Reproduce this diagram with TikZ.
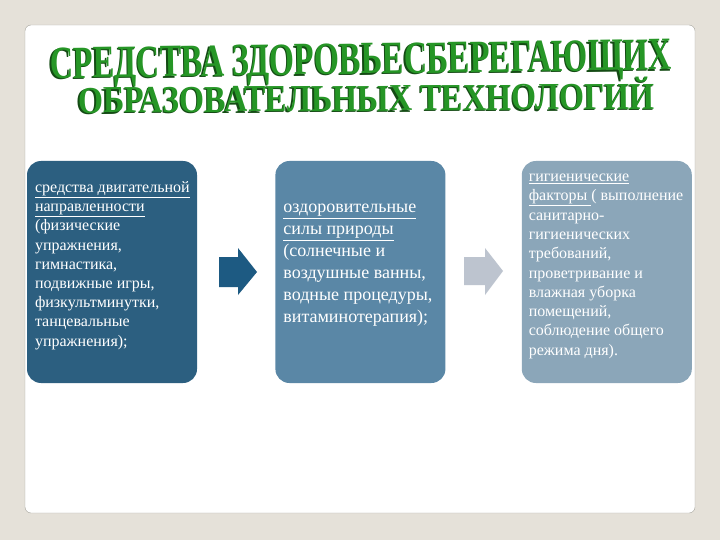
\documentclass[tikz,border=0pt]{standalone}
\usepackage{fontspec}
\setmainfont{Liberation Serif}
\usepackage{xcolor}
\usepackage{tikz}
\usetikzlibrary{arrows.meta}
\usetikzlibrary{shapes}
\usetikzlibrary{positioning}

\definecolor{slidebg}{RGB}{229,225,217}
\definecolor{panelline}{RGB}{165,163,155}
\definecolor{cardone}{RGB}{44,95,128}
\definecolor{cardtwo}{RGB}{90,135,166}
\definecolor{cardthree}{RGB}{139,166,185}
\definecolor{arrowone}{RGB}{29,90,130}
\definecolor{arrowtwo}{RGB}{189,196,207}
\definecolor{titlegreen}{RGB}{38,150,38}
\definecolor{titleshadow}{RGB}{20,75,20}

\begin{document}
\begin{tikzpicture}[x=1pt, y=-1pt,
    card/.style={rounded corners=14pt, minimum width=170pt, minimum height=222pt, inner sep=0pt},
    cardtext/.style={text=white, align=left, anchor=north west, inner sep=0pt},
    titletext/.style={font=\bfseries, inner sep=0pt, anchor=base}]
  \useasboundingbox (0,0) rectangle (720,540);
  \fill[slidebg] (0,0) rectangle (720,540);
  \draw (360,269) node[fill=white, draw=panelline, rounded corners=6pt, minimum width=670pt, minimum height=488pt] (panel) {};

  % title
  \draw (359.8,75.2) node[titletext, text=titleshadow, rotate=0.8] (titleoneshadow) {\fontsize{46}{46}\selectfont\resizebox{622pt}{\height}{СРЕДСТВА ЗДОРОВЬЕСБЕРЕГАЮЩИХ}};
  \draw (361,74) node[titletext, text=titlegreen, rotate=0.8] (titleone) {\fontsize{46}{46}\selectfont\resizebox{622pt}{\height}{СРЕДСТВА ЗДОРОВЬЕСБЕРЕГАЮЩИХ}};
  \draw (365.3,112.2) node[titletext, text=titleshadow, rotate=0.4] (titletwoshadow) {\fontsize{38}{38}\selectfont\resizebox{577pt}{\height}{ОБРАЗОВАТЕЛЬНЫХ ТЕХНОЛОГИЙ}};
  \draw (366.5,111) node[titletext, text=titlegreen, rotate=0.4] (titletwo) {\fontsize{38}{38}\selectfont\resizebox{577pt}{\height}{ОБРАЗОВАТЕЛЬНЫХ ТЕХНОЛОГИЙ}};

  % cards
  \draw (112,272) node[card, fill=cardone] (motion) {};
  \node[card, fill=cardtwo, right=78pt of motion] (nature) {};
  \node[card, fill=cardthree, right=76pt of nature] (hygiene) {};

  \node[cardtext, font=\fontsize{16}{19.2}\selectfont, below right=20.5pt and 8pt of motion.north west] (motiontext) {\underline{средства двигательной}\\
    \underline{направленности}\\
    (физические\\
    упражнения,\\
    гимнастика,\\
    подвижные игры,\\
    физкультминутки,\\
    танцевальные\\
    упражнения);};
  \node[cardtext, font=\fontsize{18}{22}\selectfont, below right=43pt and 8pt of nature.north west] (naturetext) {\underline{оздоровительные}\\
    \underline{силы природы}\\
    (солнечные и\\
    воздушные ванны,\\
    водные процедуры,\\
    витаминотерапия);};
  \node[cardtext, font=\fontsize{16}{19.3}\selectfont, below right=13pt and 7pt of hygiene.north west] (hygienetext) {\underline{гигиенические}\\
    \underline{факторы }( выполнение\\
    санитарно-\\
    гигиенических\\
    требований,\\
    проветривание и\\
    влажная уборка\\
    помещений,\\
    соблюдение общего\\
    режима дня).};

  % block arrows
  \fill[arrowone, shift={(219,272)}] (0,-15) -- (19,-15) -- (19,-24) -- (38,0) -- (19,23) -- (19,15) -- (0,15) -- cycle;
  \fill[arrowtwo, shift={(464,271)}] (0,-14) -- (21,-14) -- (21,-23) -- (39,0) -- (21,24) -- (21,14) -- (0,14) -- cycle;
\end{tikzpicture}
\end{document}
